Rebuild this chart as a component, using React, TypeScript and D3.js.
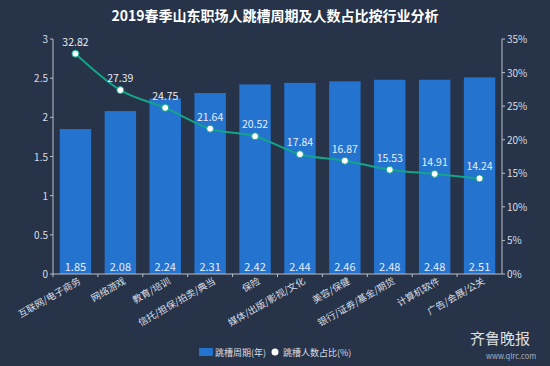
import React from "react";
import * as d3 from "d3";

const categories = [
  "互联网/电子商务", "网络游戏", "教育/培训", "信托/担保/拍卖/典当", "保险",
  "媒体/出版/影视/文化", "美容/保健", "银行/证券/基金/期货", "计算机软件", "广告/会展/公关",
];
const cycleYears = [1.85, 2.08, 2.24, 2.31, 2.42, 2.44, 2.46, 2.48, 2.48, 2.51];
const sharePct = [32.82, 27.39, 24.75, 21.64, 20.52, 17.84, 16.87, 15.53, 14.91, 14.24];
const leftTicks = [0, 0.5, 1, 1.5, 2, 2.5, 3];
const rightTicks = [0, 5, 10, 15, 20, 25, 30, 35];

const W = 550, H = 366;
const margin = { top: 39, right: 48, bottom: 92, left: 53 };
const font = "'Noto Sans CJK SC', 'Noto Sans', sans-serif";

export default function App() {
  const x = d3.scaleBand().domain(categories).range([margin.left, W - margin.right]).paddingInner(0.3).paddingOuter(0.15);
  const yL = d3.scaleLinear().domain([0, 3]).range([H - margin.bottom, margin.top]);
  const yR = d3.scaleLinear().domain([0, 35]).range([H - margin.bottom, margin.top]);
  const cx = (c: string) => (x(c) ?? 0) + x.bandwidth() / 2;

  const line = d3.line<number>()
    .x((_, i) => cx(categories[i]))
    .y((d) => yR(d))
    .curve(d3.curveMonotoneX);

  const base = H - margin.bottom;
  const axisColor = "#b8c0cc";
  const textColor = "#d9dee6";

  return (
    <svg width={W} height={H} style={{ position: "absolute", left: 0, top: 0, fontFamily: font }}>
      <rect width={W} height={H} fill="#263349" />
      <text x={W / 2} y={21} textAnchor="middle" fill="#fff" fontSize={14} fontWeight="bold">
        2019春季山东职场人跳槽周期及人数占比按行业分析
      </text>

      {/* bars */}
      {categories.map((c, i) => (
        <g key={c}>
          <rect x={x(c)} y={yL(cycleYears[i])} width={x.bandwidth()} height={base - yL(cycleYears[i])} fill="#2473cf" />
          <text x={cx(c)} y={base - 3} textAnchor="middle" fill="#e6eefa" fontSize={11}>
            {cycleYears[i].toFixed(2)}
          </text>
        </g>
      ))}

      {/* left axis */}
      <line x1={margin.left} x2={margin.left} y1={margin.top} y2={base} stroke={axisColor} />
      {leftTicks.map((t) => (
        <g key={t}>
          <line x1={margin.left - 3} x2={margin.left} y1={yL(t)} y2={yL(t)} stroke={axisColor} />
          <text x={margin.left - 5} y={yL(t) + 4} textAnchor="end" fill={textColor} fontSize={10}>{t}</text>
        </g>
      ))}

      {/* right axis */}
      <line x1={W - margin.right} x2={W - margin.right} y1={margin.top} y2={base} stroke={axisColor} />
      {rightTicks.map((t) => (
        <g key={t}>
          <line x1={W - margin.right} x2={W - margin.right + 3} y1={yR(t)} y2={yR(t)} stroke={axisColor} />
          <text x={W - margin.right + 5} y={yR(t) + 4} textAnchor="start" fill={textColor} fontSize={10}>{t}%</text>
        </g>
      ))}

      {/* x axis */}
      <line x1={margin.left} x2={W - margin.right} y1={base} y2={base} stroke={axisColor} />
      {categories.map((c) => (
        <g key={c}>
          <line x1={(x(c) ?? 0) - x.step() * x.paddingInner() / 2} x2={(x(c) ?? 0) - x.step() * x.paddingInner() / 2} y1={base} y2={base + 3} stroke={axisColor} />
          <text transform={`translate(${cx(c) + 6},${base + 9}) rotate(-30)`} textAnchor="end" fill={textColor} fontSize={9.5}>
            {c}
          </text>
        </g>
      ))}

      {/* share line */}
      <path d={line(sharePct) ?? ""} fill="none" stroke="#13a58a" strokeWidth={2} />
      {sharePct.map((v, i) => (
        <g key={i}>
          <circle cx={cx(categories[i])} cy={yR(v)} r={3.5} fill="#fff" stroke="#13a58a" strokeWidth={1} />
          <text x={cx(categories[i])} y={yR(v) - 8} textAnchor="middle" fill="#e6eefa" fontSize={10.5}>
            {v.toFixed(2)}
          </text>
        </g>
      ))}

      {/* legend */}
      <rect x={199} y={348} width={14} height={8} rx={1} fill="#2473cf" />
      <text x={215} y={356} fill={textColor} fontSize={9}>跳槽周期(年)</text>
      <circle cx={275} cy={352} r={3.5} fill="#fff" />
      <text x={283} y={356} fill={textColor} fontSize={9}>跳槽人数占比(%)</text>

      {/* watermark */}
      <text x={500} y={344} textAnchor="middle" fill="#ffffff" opacity={0.85} fontSize={15}>齐鲁晚报</text>
      <text x={511} y={359} textAnchor="middle" fill="#aab3c0" fontSize={7.5}>www.qlrc.com</text>
    </svg>
  );
}
